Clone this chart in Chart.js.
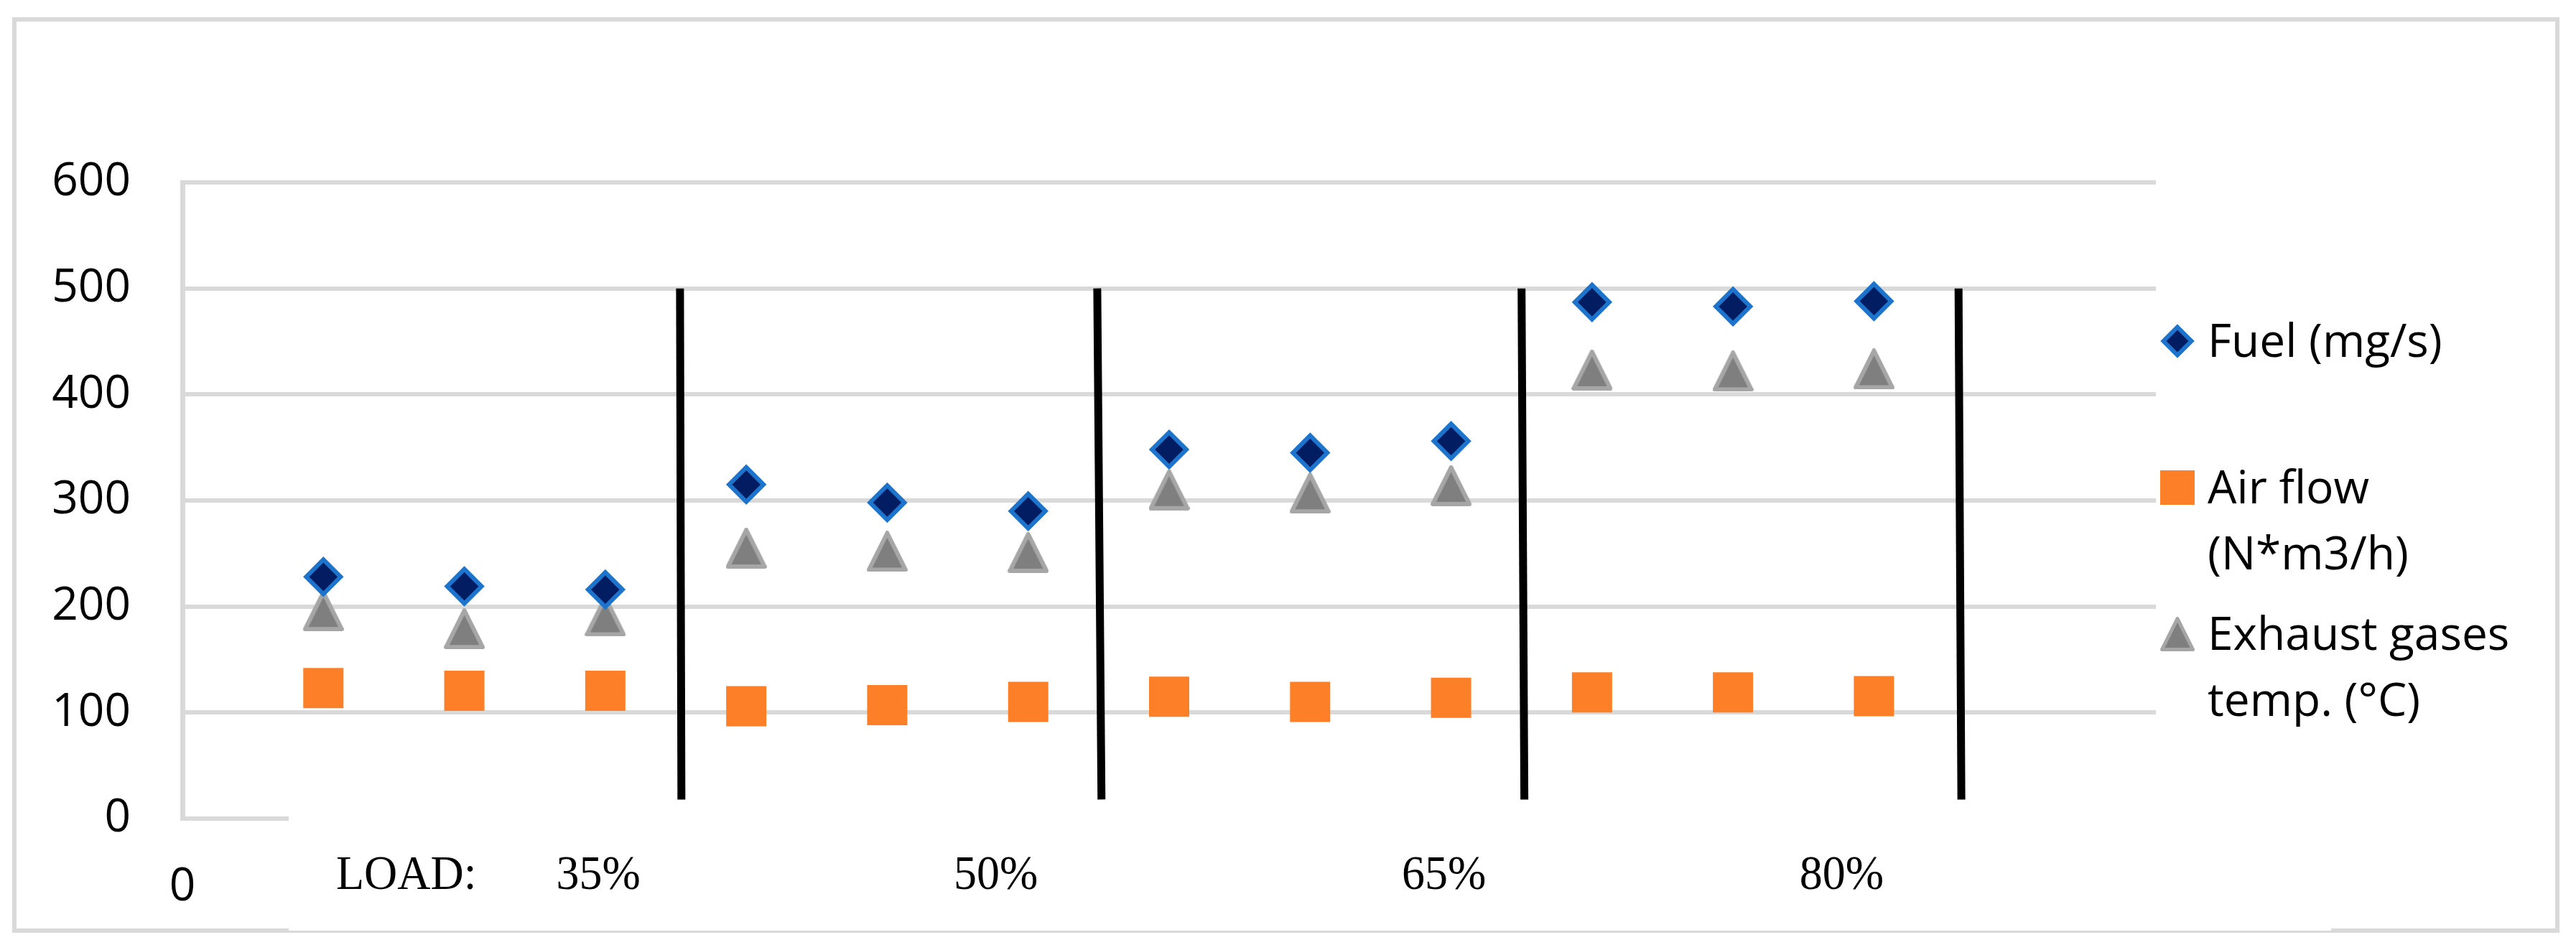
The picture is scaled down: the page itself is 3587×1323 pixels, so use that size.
<!DOCTYPE html>
<html>
<head>
<meta charset="utf-8">
<title>Fuel, air flow and exhaust gases temperature at each load</title>
<script src="https://cdn.jsdelivr.net/npm/chart.js@4.4.1/dist/chart.umd.min.js"></script>
<style>
  html, body { margin: 0; padding: 0; background: #fff; }
  #wrap { width: 3587px; height: 1323px; position: relative; }
</style>
</head>
<body>
<div id="wrap"><canvas id="loadChart"></canvas></div>
<script>
// three runs per load level, plotted at x = 1..12
const pointX = [1, 2, 3, 4, 5, 6, 7, 8, 9, 10, 11, 12];
const fuel = [228, 219, 216, 315, 298, 290, 348, 345, 356, 487, 483, 488];
const airFlow = [123, 120.5, 120.5, 106, 107, 110, 115, 110, 114, 119, 119, 115.5];
const exhaustTemp = [196, 179, 191, 255, 252, 251, 310, 307, 314, 423, 422, 424];

const yTicks = [0, 100, 200, 300, 400, 500, 600];
const xTicks = [0];

// hand drawn separators between load levels (x at top, x at bottom)
const dividerTopX = [3.53, 6.49, 9.50, 12.60];
const dividerBottomX = [3.54, 6.52, 9.52, 12.62];
const dividerSpan = [500, 18];

// text box under the plot
const loadCaption = 'LOAD:';
const loadCaptionX = 1.09;
const loadLabels = ['35%', '50%', '65%', '80%'];
const loadLabelX = [2.95, 5.77, 8.95, 11.77];

const legendLines = [
  ['Fuel (mg/s)'],
  ['Air flow', '(N*m3/h)'],
  ['Exhaust gases', 'temp. (°C)']
];

const GRID = '#d9d9d9';
const FONT = '"Open Sans", "Liberation Sans", sans-serif';

function triangleMarker(size, lw) {
  const c = document.createElement('canvas');
  c.width = size;
  c.height = size;
  const g = c.getContext('2d');
  const m = lw / 2;
  g.beginPath();
  g.moveTo(size / 2, m);
  g.lineTo(size - m, size - m);
  g.lineTo(m, size - m);
  g.closePath();
  g.fillStyle = '#7f7f7f';
  g.fill();
  g.lineJoin = 'round';
  g.lineWidth = lw;
  g.strokeStyle = '#a6a6a6';
  g.stroke();
  return c;
}

const triPlot = triangleMarker(57, 6);
const triLegend = triangleMarker(48, 5);

const toPoints = ys => pointX.map((x, i) => ({ x, y: ys[i] }));

const datasets = [
  {
    label: 'Fuel (mg/s)',
    data: toPoints(fuel),
    pointStyle: 'rectRot',
    pointRadius: 24,
    pointBorderWidth: 6,
    backgroundColor: '#031d62',
    borderColor: '#1c74cc'
  },
  {
    label: 'Air flow (N*m3/h)',
    data: toPoints(airFlow),
    pointStyle: 'rect',
    pointRadius: 39.6,
    pointBorderWidth: 0,
    backgroundColor: '#fd7f28',
    borderColor: '#fd7f28'
  },
  {
    label: 'Exhaust gases temp. (°C)',
    data: toPoints(exhaustTemp),
    pointStyle: triPlot,
    pointRadius: 28,
    backgroundColor: '#7f7f7f',
    borderColor: '#a6a6a6'
  }
];

dividerTopX.forEach((xt, i) => {
  datasets.push({
    type: 'line',
    label: 'divider',
    data: [{ x: xt, y: dividerSpan[0] }, { x: dividerBottomX[i], y: dividerSpan[1] }],
    borderColor: '#000',
    borderWidth: 11,
    borderCapStyle: 'butt',
    pointRadius: 0,
    fill: false
  });
});

const frame = {
  id: 'frame',
  beforeDraw(chart) {
    const ctx = chart.ctx;
    ctx.save();
    ctx.fillStyle = '#fff';
    ctx.fillRect(0, 0, chart.width, chart.height);
    ctx.strokeStyle = GRID;
    ctx.lineWidth = 6;
    ctx.strokeRect(20, 27, 3561 - 20, 1296 - 27);
    ctx.restore();
  }
};

const loadBox = {
  id: 'loadBox',
  afterDraw(chart) {
    const { ctx } = chart;
    const xs = chart.scales.x;
    ctx.save();
    ctx.fillStyle = '#fff';
    ctx.fillRect(402, 1115, 3246 - 402, 1296 - 1115);
    ctx.fillStyle = '#000';
    ctx.font = '64px "Liberation Serif", "Times New Roman", serif';
    ctx.textBaseline = 'alphabetic';
    const put = (text, x, align) => {
      ctx.save();
      ctx.translate(x, 1238);
      ctx.scale(1, 1.07);
      ctx.textAlign = align;
      ctx.fillText(text, 0, 0);
      ctx.restore();
    };
    put(loadCaption, xs.getPixelForValue(loadCaptionX), 'left');
    loadLabels.forEach((t, i) => put(t, xs.getPixelForValue(loadLabelX[i]), 'center'));
    ctx.restore();
  }
};

const sideLegend = {
  id: 'sideLegend',
  afterDraw(chart) {
    const { ctx, chartArea } = chart;
    const markX = chartArea.right + 30;
    const textX = chartArea.right + 72;
    ctx.save();
    ctx.font = '64px ' + FONT;
    ctx.fillStyle = '#000';
    ctx.textAlign = 'left';
    ctx.textBaseline = 'alphabetic';
    legendLines.forEach((lines, i) => {
      const base = 497 + i * 204;
      const cy = base - 22;
      if (i === 0) {
        Chart.helpers.drawPoint(ctx, {
          pointStyle: 'rectRot', radius: 19.5, borderWidth: 6, rotation: 0
        }, markX, cy);
        ctx.fillStyle = '#031d62';
        ctx.strokeStyle = '#1c74cc';
        ctx.lineWidth = 6;
        ctx.beginPath();
        ctx.moveTo(markX, cy - 19.5);
        ctx.lineTo(markX + 19.5, cy);
        ctx.lineTo(markX, cy + 19.5);
        ctx.lineTo(markX - 19.5, cy);
        ctx.closePath();
        ctx.fill();
        ctx.stroke();
      } else if (i === 1) {
        ctx.fillStyle = '#fd7f28';
        ctx.fillRect(markX - 24, cy - 24, 48, 48);
      } else {
        ctx.drawImage(triLegend, markX - 24, cy - 24, 48, 48);
      }
      ctx.fillStyle = '#000';
      lines.forEach((t, j) => ctx.fillText(t, textX, base + j * 92));
    });
    ctx.restore();
  }
};

Chart.defaults.font.family = FONT;
Chart.defaults.font.size = 64;
Chart.defaults.color = '#000';

new Chart(document.getElementById('loadChart'), {
  type: 'scatter',
  data: { datasets },
  options: {
    responsive: true,
    maintainAspectRatio: false,
    devicePixelRatio: 1,
    animation: false,
    layout: { padding: { top: 254, right: 585, left: 0, bottom: 0 } },
    plugins: {
      legend: { display: false },
      tooltip: { enabled: false }
    },
    scales: {
      x: {
        type: 'linear',
        min: 0,
        max: 14,
        afterBuildTicks: s => { s.ticks = xTicks.map(v => ({ value: v })); },
        afterFit: s => { s.height = 183; },
        grid: { display: false, drawTicks: false },
        border: { display: false },
        ticks: { padding: 57, maxRotation: 0 }
      },
      y: {
        min: 0,
        max: 600,
        afterBuildTicks: s => { s.ticks = yTicks.map(v => ({ value: v })); },
        afterFit: s => { s.width = 254; },
        grid: { color: GRID, lineWidth: 6, drawTicks: false },
        border: { color: GRID, width: 7 },
        ticks: { padding: 72 }
      }
    }
  },
  plugins: [frame, loadBox, sideLegend]
});
</script>
</body>
</html>
